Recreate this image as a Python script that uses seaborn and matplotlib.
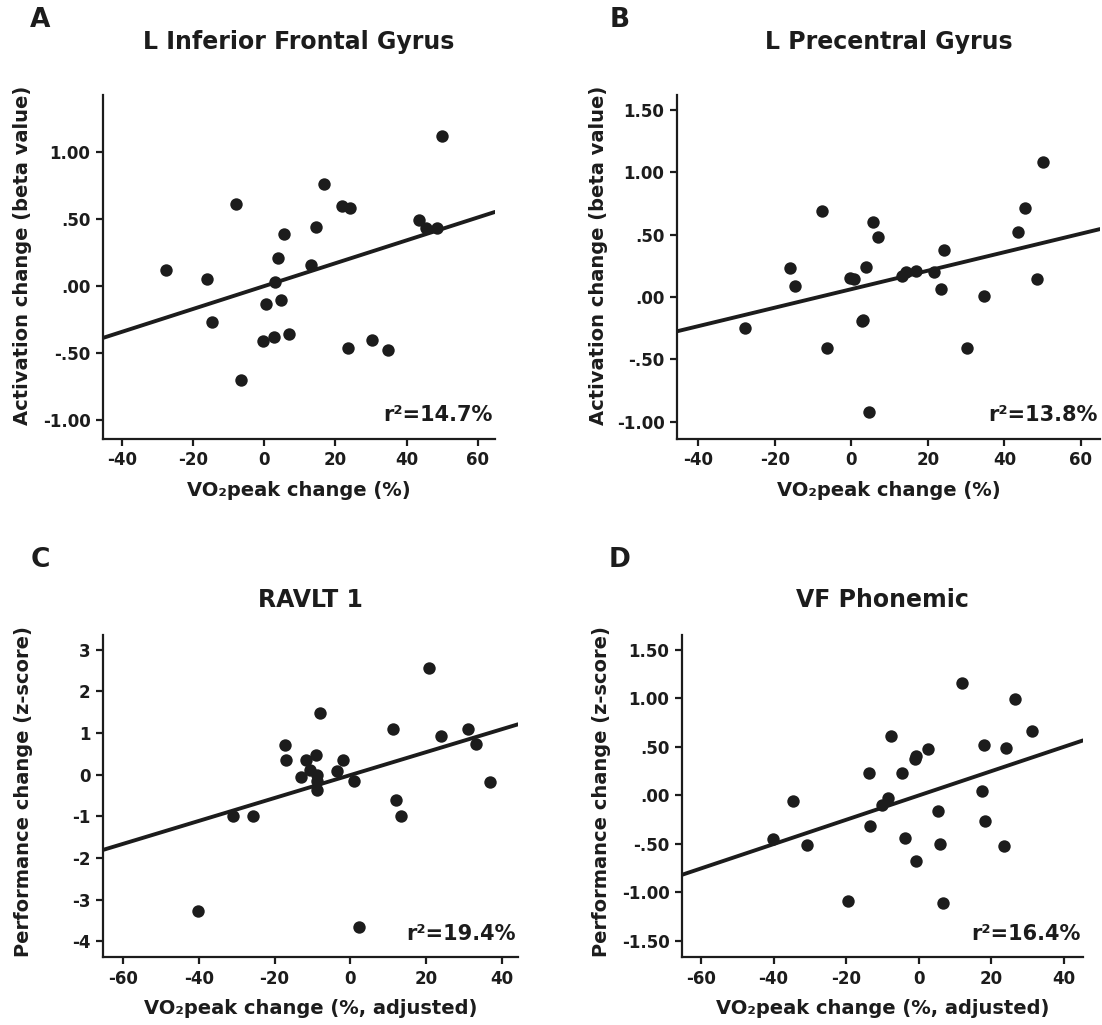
import numpy as np
import pandas as pd
import seaborn as sns
import matplotlib.pyplot as plt
from matplotlib.ticker import FixedLocator, FixedFormatter

# =========================================================
# DATA
# =========================================================
a_x = [-27.7, -16.2, -14.7, -7.9, -6.5, -0.5, 0.5, 2.7, 3.0, 3.8, 4.6, 5.6, 6.9,
       13.0, 14.4, 16.9, 21.7, 24.2, 23.4, 30.3, 34.7, 43.5, 45.3, 48.4, 49.8]
a_y = [0.12, 0.05, -0.27, 0.61, -0.70, -0.41, -0.13, -0.38, 0.03, 0.21, -0.10, 0.39, -0.36,
       0.16, 0.44, 0.76, 0.60, 0.58, -0.46, -0.40, -0.48, 0.49, 0.43, 0.43, 1.12]

b_x = [-27.8, -16.0, -14.7, -7.7, -6.5, -0.3, 0.7, 2.7, 3.0, 3.9, 4.7, 5.7, 7.0,
       13.2, 14.4, 16.9, 21.7, 23.5, 24.2, 30.3, 34.7, 43.5, 45.3, 48.5, 50.0]
b_y = [-0.25, 0.23, 0.09, 0.69, -0.41, 0.15, 0.14, -0.19, -0.185, 0.24, -0.92, 0.60, 0.48,
       0.17, 0.20, 0.21, 0.20, 0.06, 0.38, -0.41, 0.01, 0.52, 0.71, 0.14, 1.08]

c_x = [-40.1, -31.0, -25.6, -17.2, -17.0, -13.0, -11.8, -10.6, -9.1, -8.7, -8.7, -8.7,
       -8.1, -3.5, -1.8, 1.1, 2.3, 11.2, 12.0, 13.3, 20.9, 24.0, 31.0, 33.3, 36.8]
c_y = [-3.28, -0.99, -0.99, 0.72, 0.36, -0.05, 0.36, 0.11, 0.48, -0.01, -0.16, -0.38,
       1.47, 0.08, 0.36, -0.16, -3.66, 1.10, -0.60, -0.99, 2.55, 0.92, 1.10, 0.73, -0.19]

d_x = [-40.1, -34.7, -30.9, -19.4, -13.8, -13.5, -10.2, -8.5, -7.6, -4.5, -3.8, -1.1,
       -0.8, -0.7, 2.4, 5.2, 5.7, 6.7, 11.8, 17.4, 17.9, 18.1, 23.4, 24.0, 26.5, 31.2]
d_y = [-0.45, -0.06, -0.52, -1.09, 0.23, -0.32, -0.10, -0.03, 0.61, 0.23, -0.44, 0.37,
       0.40, -0.68, 0.47, -0.16, -0.50, -1.11, 1.16, 0.04, 0.52, -0.27, -0.53, 0.48, 0.99, 0.66]

titles = ['L Inferior Frontal Gyrus', 'L Precentral Gyrus', 'RAVLT 1', 'VF Phonemic']
letters = ['A', 'B', 'C', 'D']
r2_labels = ['r²=14.7%', 'r²=13.8%', 'r²=19.4%', 'r²=16.4%']
x_labels = ['VO₂peak change (%)', 'VO₂peak change (%)',
            'VO₂peak change (%, adjusted)', 'VO₂peak change (%, adjusted)']
y_labels = ['Activation change (beta value)', 'Activation change (beta value)',
            'Performance change (z-score)', 'Performance change (z-score)']

x_ticks_top = [-40, -20, 0, 20, 40, 60]
x_ticks_bottom = [-60, -40, -20, 0, 20, 40]

a_yticks = [-1.0, -0.5, 0.0, 0.5, 1.0]
a_ylabels = ['-1.00', '-.50', '.00', '.50', '1.00']
b_yticks = [-1.0, -0.5, 0.0, 0.5, 1.0, 1.5]
b_ylabels = ['-1.00', '-.50', '.00', '.50', '1.00', '1.50']
c_yticks = [-4, -3, -2, -1, 0, 1, 2, 3]
c_ylabels = ['-4', '-3', '-2', '-1', '0', '1', '2', '3']
d_yticks = [-1.5, -1.0, -0.5, 0.0, 0.5, 1.0, 1.5]
d_ylabels = ['-1.50', '-1.00', '-.50', '.00', '.50', '1.00', '1.50']

# =========================================================
# FIGURE
# =========================================================
sns.set_style("ticks")
plt.rcParams['font.family'] = ['DejaVu Sans']
plt.rcParams['font.weight'] = 'bold'

ink = '#1c1c1c'
W, H = 1102, 1025
fig = plt.figure(figsize=(W / 100, H / 100), dpi=100)


def px_axes(left, right, top, bottom):
    return fig.add_axes([left / W, 1 - bottom / H, (right - left) / W, (bottom - top) / H])


panels = [
    (px_axes(103, 495, 95, 439), a_x, a_y, (-45.3, 64.8), (-1.14, 1.425), x_ticks_top, a_yticks, a_ylabels),
    (px_axes(677, 1100, 95, 439), b_x, b_y, (-45.6, 65.0), (-1.14, 1.62), x_ticks_top, b_yticks, b_ylabels),
    (px_axes(103, 518, 635, 957), c_x, c_y, (-65.3, 44.3), (-4.38, 3.35), x_ticks_bottom, c_yticks, c_ylabels),
    (px_axes(682, 1083, 635, 957), d_x, d_y, (-65.2, 45.2), (-1.67, 1.65), x_ticks_bottom, d_yticks, d_ylabels),
]
ylabel_x = [-0.181, -0.163, -0.169, -0.177]
ylabel_y = [0.535, 0.535, 0.515, 0.515]
title_pad = [33, 33, 20, 20]

for i, (ax, xs, ys, xlim, ylim, xt, yt, ytl) in enumerate(panels):
    df = pd.DataFrame({'x': xs, 'y': ys})
    ax.set_xlim(*xlim)
    ax.set_ylim(*ylim)
    sns.regplot(data=df, x='x', y='y', ax=ax, ci=None, truncate=False,
                scatter_kws={'s': 80, 'color': ink, 'alpha': 1, 'linewidths': 0},
                line_kws={'color': ink, 'lw': 2.8})
    ax.set_xlim(*xlim)
    ax.set_ylim(*ylim)

    ax.xaxis.set_major_locator(FixedLocator(xt))
    ax.xaxis.set_major_formatter(FixedFormatter([str(v) for v in xt]))
    ax.yaxis.set_major_locator(FixedLocator(yt))
    ax.yaxis.set_major_formatter(FixedFormatter(ytl))

    sns.despine(ax=ax)
    for s in ['left', 'bottom']:
        ax.spines[s].set_linewidth(1.6)
        ax.spines[s].set_color(ink)
    ax.tick_params(axis='both', direction='out', length=5, width=1.6, color=ink,
                   labelsize=12, labelcolor=ink, pad=4)
    for lab in ax.get_xticklabels() + ax.get_yticklabels():
        lab.set_fontweight('bold')

    ax.set_xlabel(x_labels[i], fontsize=14, fontweight='bold', color=ink, labelpad=8)
    ax.set_ylabel(y_labels[i], fontsize=14, fontweight='bold', color=ink)
    ax.yaxis.set_label_coords(ylabel_x[i], ylabel_y[i])
    ax.set_title(titles[i], fontsize=17, fontweight='bold', color=ink, pad=title_pad[i])
    ax.text(0.995, 0.04, r2_labels[i], transform=ax.transAxes, ha='right', va='bottom',
            fontsize=15, fontweight='bold', color=ink)

# panel letters
letter_pos = [(40, 20), (620, 20), (40, 560), (620, 560)]
for letter, (lx, ly) in zip(letters, letter_pos):
    fig.text(lx / W, 1 - ly / H, letter, fontsize=19, fontweight='bold', color=ink,
             ha='center', va='center')

fig.savefig('out.png', dpi=100)
